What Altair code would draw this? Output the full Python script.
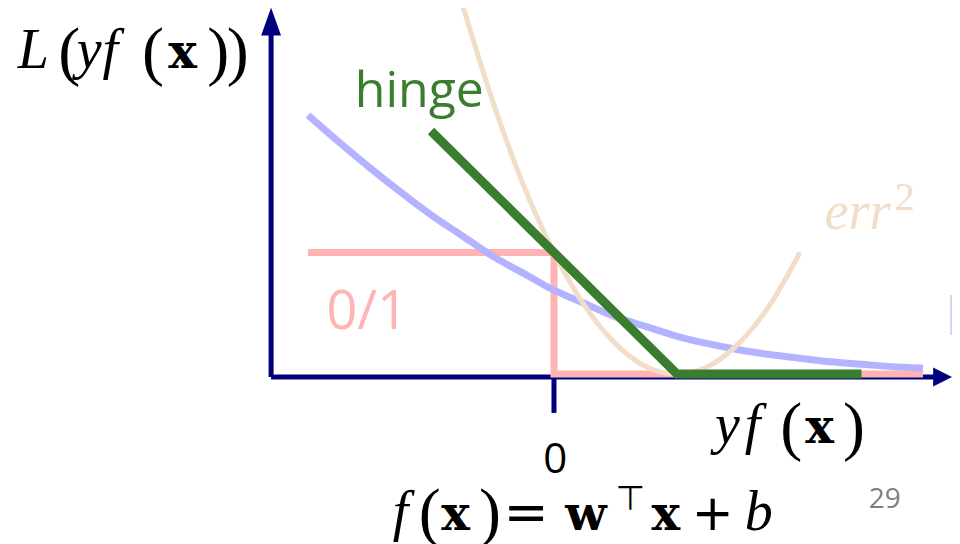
import altair as alt
import pandas as pd

# ---- loss curves (in units of y f(x) and L) ----
zo_z = [-2.0, 0.0, 0.0, 3.0]
zo_L = [1.0, 1.0, 0.0, 0.0]

hinge_z = [-1.0, 1.0, 2.5]
hinge_L = [2.0, 0.0, 0.0]

log_z = [-2.0, -1.75, -1.5, -1.25, -1.0, -0.75, -0.5, -0.25, 0.0, 0.25, 0.5,
         0.75, 1.0, 1.25, 1.5, 1.75, 2.0, 2.25, 2.5, 2.75, 3.0]
log_L = [2.13, 1.91, 1.70, 1.50, 1.31, 1.14, 0.97, 0.83, 0.69, 0.58, 0.47,
         0.39, 0.31, 0.25, 0.20, 0.16, 0.13, 0.10, 0.08, 0.06, 0.05]

sq_z = [-0.75, -0.5, -0.25, 0.0, 0.25, 0.5, 0.75, 1.0, 1.25, 1.5, 1.75, 2.0]
sq_L = [3.06, 2.25, 1.56, 1.0, 0.56, 0.25, 0.06, 0.0, 0.06, 0.25, 0.56, 1.0]

# axes (hand-drawn style arrows)
axis_z = [-2.30, 3.10, -2.30, -2.30]
axis_L = [-0.025, -0.025, -0.025, 2.79]
axis_g = ["x", "x", "y", "y"]

NAVY = "#00007f"
PINK = "#ffb3b3"
BLUE = "#b3b3ff"
GREEN = "#3a7d2e"
BEIGE = "#f2ddc9"

# plot area 944 x 536 px
XS = alt.Scale(domain=[-4.439, 3.236], nice=False, zero=False)
YS = alt.Scale(domain=[-1.399, 3.012], nice=False, zero=False)
X = alt.X("z:Q", scale=XS, axis=None)
Y = alt.Y("L:Q", scale=YS, axis=None)


def line(z, L, color, width, interp="linear"):
    df = pd.DataFrame({"z": z, "L": L, "o": list(range(len(z)))})
    return alt.Chart(df).mark_line(color=color, strokeWidth=width, interpolate=interp,
                                   strokeCap="butt", clip=False).encode(
        x=X, y=Y, order="o:Q")


axes_df = pd.DataFrame({"z": axis_z, "L": axis_L, "g": axis_g, "o": [0, 1, 0, 1]})
axes = alt.Chart(axes_df).mark_line(color=NAVY, strokeWidth=5, strokeCap="butt").encode(
    x=X, y=Y, detail="g:N", order="o:Q")

tick = line([0.0, 0.0], [-0.025, -0.32], NAVY, 5)

up_arrow = alt.Chart(pd.DataFrame({"z": [-2.30], "L": [2.90]})).mark_point(
    shape="M0,-1L0.71,1L-0.71,1Z", size=784, filled=True, color=NAVY, opacity=1).encode(x=X, y=Y)
right_arrow = alt.Chart(pd.DataFrame({"z": [3.16], "L": [-0.025]})).mark_point(
    shape="M1,0L-1,-1L-1,1Z", size=361, filled=True, color=NAVY, opacity=1).encode(x=X, y=Y)

edge = line([3.23, 3.23], [0.32, 0.65], "#d9ccf2", 2)

pink = line(zo_z, zo_L, PINK, 7)
blue = line(log_z, log_L, BLUE, 7, "monotone")
beige = line(sq_z, sq_L, BEIGE, 5, "monotone")
green = line(hinge_z, hinge_L, GREEN, 9)


# ---- text pieces ----
def text_layer(rows, font, style="normal", weight="normal", align="left"):
    df = pd.DataFrame(rows, columns=["t", "z", "L", "s", "c"])
    return alt.Chart(df).mark_text(font=font, fontStyle=style, fontWeight=weight,
                                   align=align, baseline="alphabetic").encode(
        x=X, y=Y, text="t:N", size=alt.Size("s:Q", scale=None),
        color=alt.Color("c:N", scale=None))


SERIF = "Liberation Serif"
SANS = "Open Sans"
K = "#000000"

italic_rows = [
    ["L", -4.36, 2.52, 56, K],
    ["y", -3.88, 2.52, 56, K],
    ["f", -3.67, 2.52, 56, K],
    ["y", 1.31, -0.57, 56, K],
    ["f", 1.55, -0.57, 56, K],
    ["f", -1.31, -1.28, 56, K],
    ["b", 1.55, -1.28, 56, K],
    ["err", 2.20, 1.19, 54, BEIGE],
]
paren_rows = [
    ["(", -4.03, 2.48, 66, K],
    ["(", -3.35, 2.48, 66, K],
    [")", -2.82, 2.48, 66, K],
    [")", -2.66, 2.48, 66, K],
    ["(", 1.84, -0.61, 66, K],
    [")", 2.35, -0.61, 66, K],
    ["(", -1.10, -1.32, 66, K],
    [")", -0.61, -1.32, 66, K],
    ["2", 2.77, 1.35, 40, BEIGE],
]
bold_rows = [
    ["x", -3.02, 2.52, 48, K],
    ["x", 2.16, -0.57, 48, K],
    ["x", -0.80, -1.28, 48, K],
    ["w", 0.26, -1.28, 48, K],
    ["x", 0.91, -1.28, 48, K],
]
sym_rows = [
    ["\u22a4", 0.50, -1.12, 34, K],
    ["=", -0.41, -1.28, 54, K],
    ["+", 1.12, -1.28, 50, K],
]
sans_rows = [
    ["hinge", -1.62, 2.20, 50, GREEN],
    ["0/1", -1.85, 0.37, 54, PINK],
]
sans_center_rows = [
    ["0", 0.01, -0.815, 42, K],
    ["29", 2.69, -1.10, 28, "#7f7f7f"],
]

texts = [
    text_layer(italic_rows, SERIF, style="italic"),
    text_layer(paren_rows, SERIF),
    text_layer(bold_rows, "DejaVu Serif", weight="bold", align="center"),
    text_layer(sym_rows, "DejaVu Sans"),
    text_layer(sans_rows, SANS),
    text_layer(sans_center_rows, SANS, align="center"),
]

chart = alt.layer(axes, tick, up_arrow, right_arrow, edge, pink, blue, beige, green, *texts).properties(
    width=944, height=536,
    autosize=alt.AutoSizeParams(type="none"),
    padding=0,
).configure_view(stroke=None)

chart.save("out.html", embed_options={"renderer": "svg", "actions": False})
